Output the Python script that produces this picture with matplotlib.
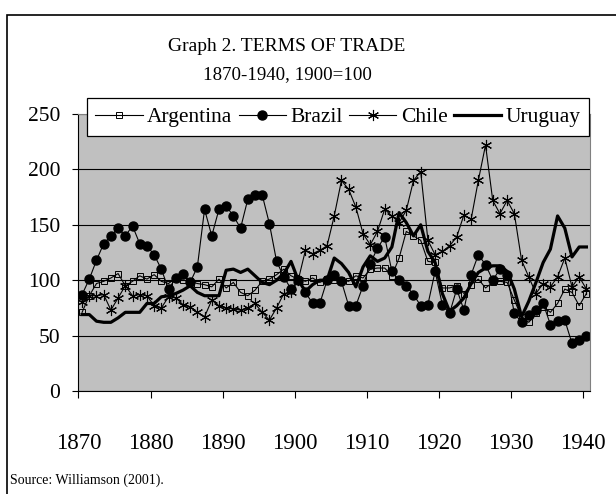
import matplotlib
matplotlib.use("Agg")
import matplotlib.pyplot as plt
from matplotlib.patches import Rectangle

years = list(range(1870, 1941))

argentina = [71, 86, 97, 99, 102, 106, 95, 99, 104, 101,
             105, 99, 97, 102, 100, 99, 97, 96, 94, 101,
             93, 98, 89, 86, 91, 99, 101, 105, 110, 104,
             101, 99, 102, 98, 101, 100, 100, 99, 104, 102,
             110, 111, 111, 104, 120, 144, 140, 136, 117, 116,
             93, 93, 95, 88, 96, 101, 93, 98, 99, 98,
             82, 67, 62, 70, 76, 71, 79, 92, 89, 77, 88]
brazil = [87, 101, 118, 133, 140, 147, 140, 149, 133, 131,
          123, 110, 92, 102, 106, 98, 112, 164, 140, 164,
          167, 158, 147, 173, 177, 177, 151, 117, 103, 92,
          100, 89, 79, 79, 100, 105, 99, 77, 77, 95,
          115, 129, 139, 108, 100, 95, 87, 77, 78, 108,
          78, 70, 92, 73, 105, 123, 114, 100, 110, 105,
          70, 62, 69, 73, 79, 60, 63, 64, 43, 46, 50]
chile = [80, 86, 86, 87, 73, 84, 95, 86, 87, 86,
         77, 75, 85, 84, 78, 76, 71, 67, 82, 77,
         75, 74, 73, 75, 79, 71, 64, 75, 88, 89,
         100, 127, 124, 127, 131, 158, 190, 182, 166, 142,
         132, 144, 164, 158, 152, 163, 190, 198, 136, 123,
         126, 131, 139, 159, 155, 190, 222, 172, 160, 172,
         160, 118, 103, 88, 97, 94, 103, 120, 94, 103, 92]
uruguay = [69, 69, 63, 62, 62, 66, 71, 71, 71, 79,
           79, 85, 86, 88, 91, 95, 89, 86, 86, 86,
           109, 110, 107, 110, 104, 98, 96, 100, 106, 117,
           100, 90, 96, 100, 100, 120, 115, 107, 94, 112,
           122, 117, 120, 130, 161, 152, 140, 150, 126, 116,
           88, 72, 77, 84, 97, 107, 111, 113, 113, 108,
           92, 67, 81, 98, 116, 128, 158, 147, 121, 130, 130]

xlabels = ["1870", "1880", "1890", "1900", "1910", "1920", "1930", "1940"]
yticks = [0, 50, 100, 150, 200, 250]

plt.rcParams['font.family'] = 'Liberation Serif'

fig = plt.figure(figsize=(6.16, 4.94), dpi=100)
ax = fig.add_axes([0.1274, 0.2085, 0.8304, 0.5607])
ax.set_facecolor('#c0c0c0')

ax.plot(years, argentina, color='black', lw=0.8, marker='s', ms=4,
        mfc='none', mec='black', mew=0.7, label='Argentina')
ax.plot(years, brazil, color='black', lw=0.8, marker='o', ms=6.5,
        mfc='black', mec='black', label='Brazil')
ax.plot(years, chile, color='black', lw=0.8, marker=(6, 2, 0), ms=8,
        mew=0.8, label='Chile')
ax.plot(years, uruguay, color='black', lw=2.3, label='Uruguay')

ax.set_xlim(1869.5, 1940.5)
ax.set_ylim(0, 250)
ax.set_yticks(yticks)
ax.set_yticklabels([str(v) for v in yticks])
ax.set_xticks([int(s) - 0.5 for s in xlabels])
ax.set_xticklabels(xlabels)
ax.yaxis.grid(True, color='black', lw=0.8)
ax.set_axisbelow(True)

ax.tick_params(axis='x', direction='out', length=5, width=0.8, pad=25, labelsize=16.5)
ax.tick_params(axis='y', direction='out', length=4, width=0.8, pad=9, labelsize=15.5)
for s in ['top', 'right']:
    ax.spines[s].set_color('#808080')
for s in ['left', 'bottom']:
    ax.spines[s].set_color('black')

leg = ax.legend(loc='center', bbox_to_anchor=(0.5485, 0.763), bbox_transform=fig.transFigure,
                ncol=4, frameon=True, fancybox=False, fontsize=15.5,
                handlelength=2.2, handletextpad=0.2, columnspacing=0.3,
                borderpad=0.4, borderaxespad=0)
leg.get_frame().set_edgecolor('black')
leg.get_frame().set_linewidth(0.9)
leg.get_frame().set_facecolor('white')
leg.get_frame().set_alpha(1)

fig.text(0.466, 0.905, "Graph 2. TERMS OF TRADE", ha='center', va='center', fontsize=14)
fig.text(0.466, 0.848, "1870-1940, 1900=100", ha='center', va='center', fontsize=13.6)
fig.text(0.017, 0.027, "Source: Williamson (2001).", ha='left', va='center', fontsize=10)

fig.patches.append(Rectangle((0.012, -0.1), 1.1, 1.07, transform=fig.transFigure,
                             fill=False, edgecolor='black', lw=1.2))

fig.savefig("out.png", dpi=100)
